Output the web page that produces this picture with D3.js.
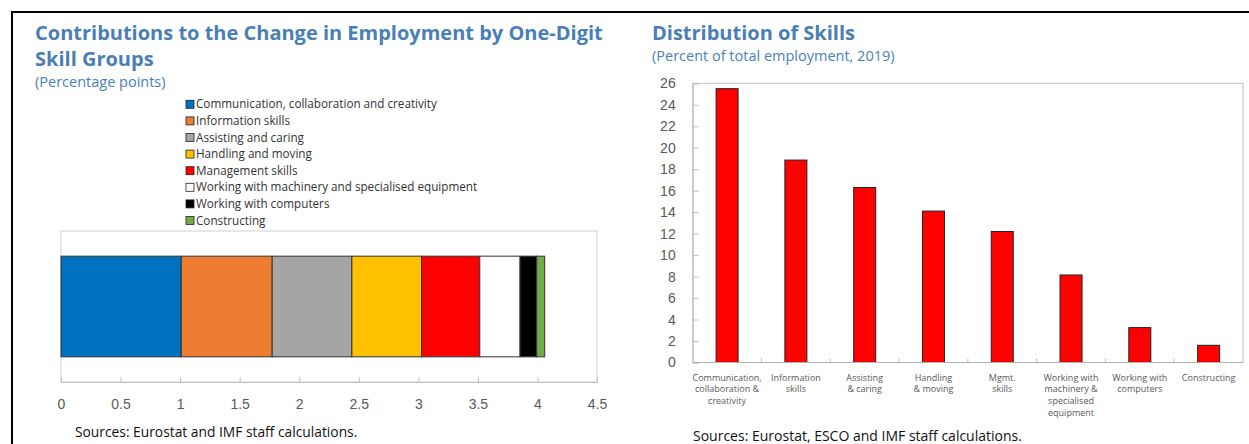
<!DOCTYPE html>
<html>
<head>
<meta charset="utf-8">
<script src="https://cdn.jsdelivr.net/npm/d3@7"></script>
<style>
  body { margin: 0; background: #fff; }
  svg { display: block; font-family: "Open Sans", "Noto Sans", sans-serif; }
</style>
</head>
<body>
<svg id="chart" width="1249" height="444"></svg>
<script>
// left panel: contributions (percentage points)
var skillGroups = ["Communication, collaboration and creativity", "Information skills", "Assisting and caring",
    "Handling and moving", "Management skills", "Working with machinery and specialised equipment",
    "Working with computers", "Constructing"];
var contributions = [1.01, 0.763, 0.669, 0.585, 0.489, 0.338, 0.14, 0.067];
var groupColors = ["#0070C0", "#ED7D31", "#A5A5A5", "#FFC000", "#FF0000", "#FFFFFF", "#000000", "#70AD47"];
var contribTicks = [0, 0.5, 1, 1.5, 2, 2.5, 3, 3.5, 4, 4.5];

// right panel: distribution of skills (percent of total employment, 2019)
var skillLabels = [
    ["Communication,", "collaboration &", "creativity"],
    ["Information", "skills"],
    ["Assisting", "& caring"],
    ["Handling", "& moving"],
    ["Mgmt.", "skills"],
    ["Working with", "machinery &", "specialised", "equipment"],
    ["Working with", "computers"],
    ["Constructing"]];
var shares = [25.5, 18.85, 16.3, 14.1, 12.2, 8.15, 3.25, 1.6];
var shareTicks = d3.range(0, 27, 2);

var titleBlue = "#4a7fb6";
var axisGrey = "#595959";
var boxGrey = "#c0c0c0";

var svg = d3.select("#chart");

// frame lines
svg.append("line").attr("x1", 11).attr("x2", 1249).attr("y1", 12).attr("y2", 12)
    .attr("stroke", "#000").attr("stroke-width", 2);
svg.append("line").attr("x1", 12).attr("x2", 12).attr("y1", 11).attr("y2", 444)
    .attr("stroke", "#000").attr("stroke-width", 2);

// ---------- left panel ----------
var title1 = svg.append("text").attr("x", 35).attr("y", 40)
    .attr("fill", titleBlue).attr("font-weight", "bold").attr("font-size", 20);
title1.append("tspan").attr("x", 35).text("Contributions to the Change in Employment by One-Digit");
title1.append("tspan").attr("x", 35).attr("dy", 26).text("Skill Groups");
svg.append("text").attr("x", 35).attr("y", 87).attr("fill", titleBlue).attr("font-size", 14.5)
    .text("(Percentage points)");

// legend
var legend = svg.append("g").selectAll("g").data(skillGroups).enter().append("g")
    .attr("transform", function(d, i) { return "translate(186," + (104.3 + i * 16.6) + ")"; });
legend.append("rect").attr("x", 0).attr("y", -4).attr("width", 8).attr("height", 8)
    .attr("fill", function(d, i) { return groupColors[i]; })
    .attr("stroke", "#222").attr("stroke-width", 0.8);
legend.append("text").attr("x", 10).attr("dy", "0.35em").attr("font-size", 11.7)
    .attr("fill", "#333").text(function(d) { return d; });

var xc = d3.scaleLinear().domain([0, 4.5]).range([61, 597]);
var yc = d3.scaleBand().domain(["all"]).range([231, 382]).paddingInner(0).paddingOuter(0.25);

// plot box
svg.append("rect").attr("x", 61).attr("y", 231).attr("width", 536).attr("height", 151)
    .attr("fill", "none").attr("stroke", "#d0d0d0");

var stacked = d3.cumsum(contributions);
svg.append("g").selectAll("rect").data(contributions).enter().append("rect")
    .attr("x", function(d, i) { return xc(stacked[i] - d); })
    .attr("width", function(d) { return xc(d) - xc(0); })
    .attr("y", yc("all")).attr("height", yc.bandwidth())
    .attr("fill", function(d, i) { return groupColors[i]; })
    .attr("stroke", "#333").attr("stroke-width", 1);

var xAxisL = svg.append("g").attr("transform", "translate(0,382)")
    .call(d3.axisBottom(xc).tickValues(contribTicks).tickSize(-5).tickPadding(17)
        .tickFormat(d3.format("")));
xAxisL.select(".domain").attr("stroke", "#c0c0c0");
xAxisL.selectAll(".tick line").attr("stroke", "#c0c0c0");
xAxisL.selectAll("text").attr("font-size", 14).attr("fill", axisGrey).attr("font-family", null);

svg.append("text").attr("x", 75).attr("y", 437).attr("font-size", 13.8).attr("fill", "#111")
    .text("Sources: Eurostat and IMF staff calculations.");

// ---------- right panel ----------
svg.append("text").attr("x", 652).attr("y", 40).attr("fill", titleBlue)
    .attr("font-weight", "bold").attr("font-size", 20).text("Distribution of Skills");
svg.append("text").attr("x", 652).attr("y", 61).attr("fill", titleBlue).attr("font-size", 14.5)
    .text("(Percent of total employment, 2019)");

var xs = d3.scaleBand().domain(d3.range(skillLabels.length)).range([692.7, 1243])
    .paddingInner(0.68).paddingOuter(0.34);
var ys = d3.scaleLinear().domain([0, 26]).range([362.5, 83.3]);

svg.append("rect").attr("x", 692.7).attr("y", 83.3).attr("width", 1243 - 692.7).attr("height", 362.5 - 83.3)
    .attr("fill", "none").attr("stroke", boxGrey);

svg.append("g").selectAll("rect").data(shares).enter().append("rect")
    .attr("x", function(d, i) { return xs(i); })
    .attr("width", xs.bandwidth())
    .attr("y", function(d) { return ys(d); })
    .attr("height", function(d) { return ys(0) - ys(d); })
    .attr("fill", "#FF0000").attr("stroke", "#222").attr("stroke-width", 1);

var yAxisR = svg.append("g").attr("transform", "translate(692.7,0)")
    .call(d3.axisLeft(ys).tickValues(shareTicks).tickSize(-6).tickPadding(17));
yAxisR.select(".domain").attr("stroke", boxGrey);
yAxisR.selectAll(".tick line").attr("stroke", boxGrey);
yAxisR.selectAll("text").attr("font-size", 14).attr("fill", axisGrey).attr("font-family", null);

// category boundary ticks on the bottom axis
var half = xs.step() * xs.paddingInner() / 2;
svg.append("g").selectAll("line").data(d3.range(1, skillLabels.length)).enter().append("line")
    .attr("x1", function(i) { return xs(i) - half; })
    .attr("x2", function(i) { return xs(i) - half; })
    .attr("y1", ys(0)).attr("y2", ys(0) - 4)
    .attr("stroke", boxGrey);
svg.append("line").attr("x1", 692.7).attr("x2", 1243).attr("y1", ys(0)).attr("y2", ys(0))
    .attr("stroke", "#b0b0b0");

var catText = svg.append("g").selectAll("text").data(skillLabels).enter().append("text")
    .attr("font-size", 9).attr("fill", axisGrey).attr("text-anchor", "middle")
    .attr("y", 380.5);
catText.each(function(lines, i) {
    var t = d3.select(this);
    lines.forEach(function(l, j) {
        t.append("tspan").attr("x", xs(i) + xs.bandwidth() / 2).attr("dy", j === 0 ? 0 : 11.8).text(l);
    });
});

svg.append("text").attr("x", 693).attr("y", 441).attr("font-size", 14).attr("fill", "#111")
    .text("Sources: Eurostat, ESCO and IMF staff calculations.");
</script>
</body>
</html>
